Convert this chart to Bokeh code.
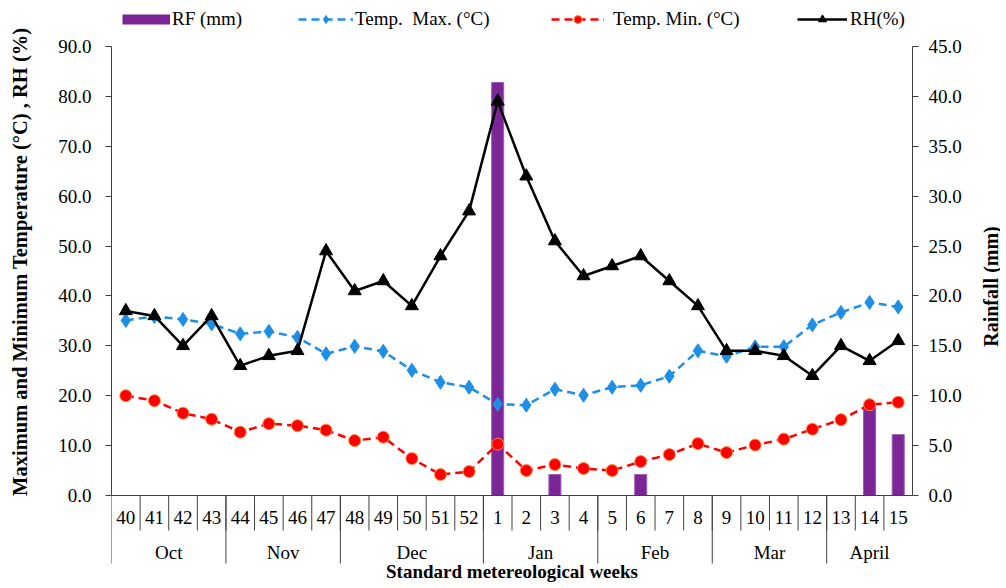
import math
from bokeh.plotting import figure
from bokeh.models import (Range1d, LinearAxis, FixedTicker, PrintfTickFormatter,
                          Legend, LegendItem, ColumnDataSource, Label)
from bokeh.embed import file_html
from bokeh.resources import INLINE
from bokeh.core.properties import value

# ---------------- data ----------------
weeks = ["40", "41", "42", "43", "44", "45", "46", "47", "48", "49", "50", "51", "52",
         "1", "2", "3", "4", "5", "6", "7", "8", "9", "10", "11", "12", "13", "14", "15"]
months = ["Oct", "Nov", "Dec", "Jan", "Feb", "Mar", "April"]
month_week_counts = [4, 4, 5, 4, 4, 4, 3]

rainfall = [0, 0, 0, 0, 0, 0, 0, 0, 0, 0, 0, 0, 0,
            41.4, 0, 2.1, 0, 0, 2.1, 0, 0, 0, 0, 0, 0, 0, 9.0, 6.1]
temp_max = [35.1, 35.9, 35.3, 34.4, 32.4, 32.9, 31.7, 28.4, 29.9, 28.9, 25.1, 22.7, 21.7,
            18.3, 18.1, 21.3, 20.1, 21.7, 22.1, 23.9, 29.0, 27.9, 29.8, 29.8, 34.2, 36.7, 38.7, 37.8]
temp_min = [20.0, 19.0, 16.5, 15.3, 12.7, 14.4, 14.0, 13.1, 11.0, 11.7, 7.4, 4.2, 4.8,
            10.3, 5.0, 6.2, 5.4, 5.0, 6.8, 8.2, 10.4, 8.6, 10.1, 11.3, 13.3, 15.2, 18.2, 18.7]
rh = [37, 36, 30, 36, 26, 28, 29, 49, 41, 43, 38, 48, 57,
      79, 64, 51, 44, 46, 48, 43, 38, 29, 29, 28, 24, 30, 27, 31]

left_ticks = [0, 10, 20, 30, 40, 50, 60, 70, 80, 90]
right_ticks = [0, 5, 10, 15, 20, 25, 30, 35, 40, 45]

left_title = "Maximum and Minimum Temperature (°C) , RH (%)"
right_title = "Rainfall (mm)"
x_title = "Standard metereological weeks"

# ---------------- layout constants ----------------
W, H = 1000, 584
BL, BR = 111, 88
FRAME_H = H
PX_PER_UNIT = 449 / 90.0          # pixels per left-axis unit
TOP_PAD_PX = 46                    # frame top to the 90 line
BOT_PAD_PX = H - TOP_PAD_PX - 449  # 0 line to frame bottom
y_end = 90 + TOP_PAD_PX / PX_PER_UNIT
y_start = -BOT_PAD_PX / PX_PER_UNIT


def px_below(px):
    return -px / PX_PER_UNIT


NBSP = "\u00a0"
FONT = "Liberation Serif"
PURPLE = "#7B2596"
BLUE = "#1E8FE6"
RED = "#FF0000"
AXIS_COLOR = "#404040"

n = len(weeks)
xs = [i + 0.5 for i in range(n)]

p = figure(width=W, height=H, output_backend="svg", toolbar_location=None,
           x_range=Range1d(0, n), y_range=Range1d(y_start, y_end),
           x_axis_location=None, min_border_left=BL, min_border_right=BR,
           min_border_top=0, min_border_bottom=0)
p.outline_line_color = None
p.xgrid.visible = False
p.ygrid.visible = False
p.background_fill_color = "white"
p.border_fill_color = "white"

p.extra_y_ranges = {"rf": Range1d(y_start / 2.0, y_end / 2.0)}

# left axis (title shifted to sit over the 0-90 span rather than the whole frame)
ya = p.yaxis[0]
ya.ticker = FixedTicker(ticks=left_ticks)
ya.formatter = PrintfTickFormatter(format="%.1f")
ya.bounds = (0, 90)
ya.axis_label = NBSP * 12 + left_title

ra = LinearAxis(y_range_name="rf", ticker=FixedTicker(ticks=right_ticks),
                formatter=PrintfTickFormatter(format="%.1f"), bounds=(0, 45))
p.add_layout(ra, "right")

for ax in (ya, ra):
    ax.axis_line_color = AXIS_COLOR
    ax.major_tick_line_color = AXIS_COLOR
    ax.major_tick_out = 6
    ax.major_tick_in = 0
    ax.minor_tick_line_color = None
    ax.major_label_text_font = FONT
    ax.major_label_text_font_size = "19px"
    ax.major_label_text_color = "black"
    ax.axis_label_text_font = FONT
    ax.axis_label_text_font_size = "20.5px"
    ax.axis_label_text_font_style = "bold"
    ax.axis_label_text_color = "black"
ya.major_label_standoff = 14
ya.axis_label_standoff = 24
ra.major_label_standoff = 10

# right-hand title, reading bottom-to-top, placed in the right border panel
p.add_layout(Label(x=26, y=FRAME_H - 286, x_units="screen", y_units="screen",
                   text=right_title, angle=math.pi / 2, text_align="center",
                   text_baseline="middle", text_font=FONT, text_font_size="20px",
                   text_font_style="bold", text_color="black"), "right")

# ---------------- marks ----------------
src = ColumnDataSource(dict(x=xs, rf=rainfall, tmax=temp_max, tmin=temp_min, rh=rh))

r_bar = p.vbar(x="x", top="rf", bottom=0, width=0.42, source=src, y_range_name="rf",
               fill_color=PURPLE, line_color="#9A5AB0", line_width=1)

r_tmax_l = p.line("x", "tmax", source=src, line_color=BLUE, line_width=2.5, line_dash="8 5")
r_tmax_m = p.scatter("x", "tmax", source=src, marker="diamond", size=14,
                     fill_color=BLUE, line_color=BLUE)

r_tmin_l = p.line("x", "tmin", source=src, line_color=RED, line_width=2.5, line_dash="8 5")
r_tmin_m = p.scatter("x", "tmin", source=src, marker="circle", size=12,
                     fill_color=RED, line_color="#FF8C40", line_width=1)

r_rh_l = p.line("x", "rh", source=src, line_color="black", line_width=2.5)
r_rh_m = p.scatter("x", "rh", source=src, marker="triangle", size=13,
                   fill_color="black", line_color="black")

# legend-only swatch for the rainfall bars (no visible data point)
key_src = ColumnDataSource(dict(x=[float("nan")], y=[float("nan")]))
r_rf_key = p.line("x", "y", source=key_src, line_color=PURPLE, line_width=10)

# ---------------- category table below the plot ----------------
WEEK_ROW_PX = 35
MONTH_ROW_PX = 68
sep_color = AXIS_COLOR

p.segment(x0=[0], y0=[0], x1=[n], y1=[0], line_color=sep_color, line_width=1.2)

week_bounds = list(range(1, n))
p.segment(x0=week_bounds, y0=[0] * len(week_bounds), x1=week_bounds,
          y1=[px_below(WEEK_ROW_PX)] * len(week_bounds), line_color=sep_color, line_width=1)

month_starts = []
acc = 0
for c in month_week_counts:
    month_starts.append(acc)
    acc += c
p.segment(x0=month_starts, y0=[0] * len(month_starts), x1=month_starts,
          y1=[px_below(MONTH_ROW_PX)] * len(month_starts), line_color=sep_color, line_width=1)

p.text(x=xs, y=[px_below(22)] * n, text=weeks, text_font=value(FONT),
       text_font_size=value("19px"), text_align="center", text_baseline="middle",
       text_color="black")

month_centers = [s + c / 2.0 for s, c in zip(month_starts, month_week_counts)]
p.text(x=month_centers, y=[px_below(57)] * len(months), text=months, text_font=value(FONT),
       text_font_size=value("19px"), text_align="center", text_baseline="middle",
       text_color="black")

p.text(x=[n / 2.0], y=[px_below(76)], text=[x_title],
       text_font=value(FONT), text_font_size=value("19px"), text_font_style="bold",
       text_align="center", text_baseline="middle", text_color="black")

# ---------------- legends ----------------
def make_legend(label, renderers, x_off, gw, standoff):
    lg = Legend(items=[LegendItem(label=label, renderers=renderers)],
                location=(x_off, FRAME_H - 30), orientation="horizontal",
                glyph_width=gw, glyph_height=20, label_standoff=standoff,
                padding=0, margin=0, spacing=0, border_line_color=None,
                background_fill_alpha=0, label_text_font=FONT,
                label_text_font_size="19px", label_height=20, label_text_color="black")
    p.add_layout(lg, "center")
    return lg


make_legend("RF (mm)", [r_rf_key], 11, 48, 2)
make_legend("Temp.  Max. (°C)", [r_tmax_l, r_tmax_m], 187, 55, 2)
make_legend("Temp. Min. (°C)", [r_tmin_l, r_tmin_m], 440, 53, 9)
make_legend("RH(%)", [r_rh_l, r_rh_m], 686, 50, 3)

open("out.html", "w").write(file_html(p, INLINE))
